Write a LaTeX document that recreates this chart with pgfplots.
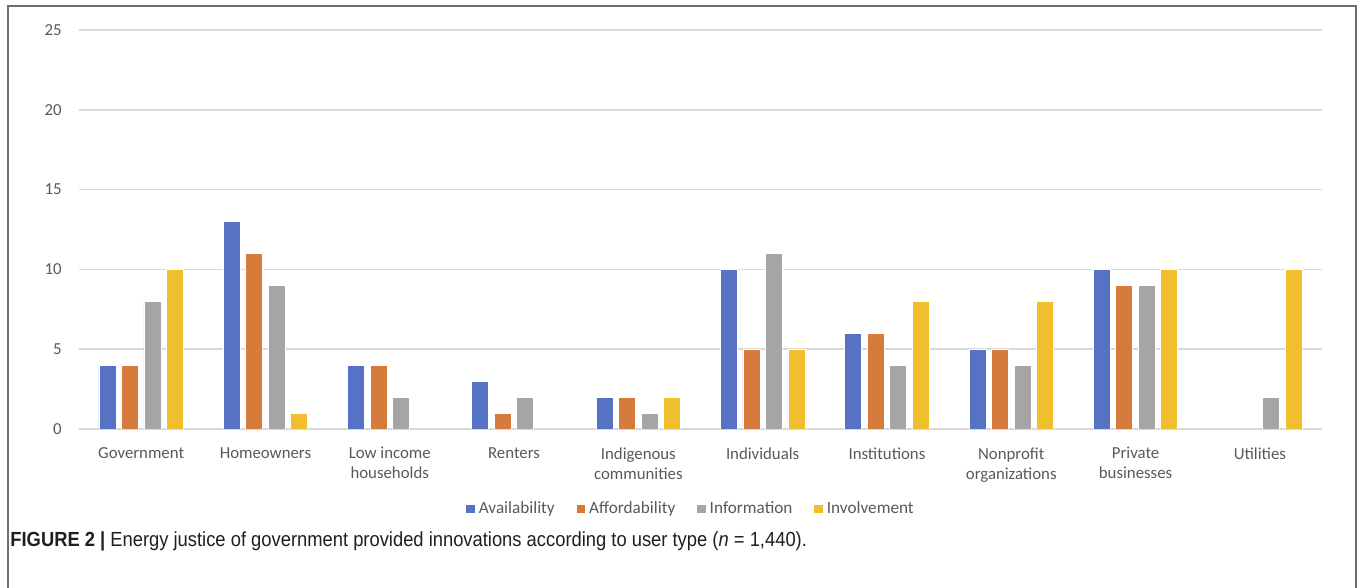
\documentclass[border=0pt]{standalone}
\usepackage{pgfplots}
\pgfplotsset{compat=1.18}
\usepackage{fontspec}
\setmainfont{Carlito}
\newfontfamily\capfont[FakeStretch=0.9]{Liberation Sans}

\definecolor{cavail}{HTML}{5672C4}
\definecolor{cafford}{HTML}{D67B3B}
\definecolor{cinfo}{HTML}{A5A5A5}
\definecolor{cinvol}{HTML}{F0BE2E}
\definecolor{labelgray}{HTML}{595959}
\definecolor{gridgray}{HTML}{D9D9D9}
\definecolor{boxgray}{HTML}{6E6E6E}

\pgfplotsset{
  legsq/.style={legend image code/.code={\fill[##1] (0pt,-2.4pt) rectangle (4.8pt,2.4pt);}},
}

\begin{document}
\begin{tikzpicture}
\useasboundingbox (0,0) rectangle (680pt,294pt);
\draw[boxgray, line width=1pt] (4pt,0) -- (4pt,291pt) -- (678pt,291pt) -- (678pt,0);

\begin{axis}[
  at={(39.5pt,79.5pt)}, anchor=south west,
  scale only axis, width=621.5pt, height=199.5pt,
  ybar=2.75pt, bar width=8.5pt,
  xmin=-0.5, xmax=9.5, ymin=0, ymax=25,
  ytick={0,5,10,15,20,25},
  xtick={0,...,9},
  xticklabels={Government, Homeowners, {Low income\\households}, Renters,
    {Indigenous\\communities}, Individuals, Institutions,
    {Nonprofit\\organizations}, {Private\\businesses}, Utilities},
  axis x line=bottom, axis y line=left,
  x axis line style={-, draw=gridgray, line width=0.8pt},
  y axis line style={draw=none},
  major tick length=0pt,
  ymajorgrids, grid style={gridgray, line width=0.8pt},
  /pgf/number format/assume math mode=true,
  tick label style={font=\fontsize{8.4}{10}\selectfont, text=labelgray},
  x tick label style={align=center, anchor=north, inner sep=0pt, yshift=-9pt},
  y tick label style={anchor=east, inner sep=0pt, xshift=-8.5pt},
  legend columns=4,
  legend style={at={(0.4924,-0.2005)}, anchor=center, draw=none,
    font=\fontsize{8.6}{10}\selectfont, text=labelgray,
    /tikz/every even column/.append style={column sep=9pt},
    nodes={inner sep=1.5pt}},
  legend cell align=left,
]
\addplot[fill=cavail, draw=white, line width=0.4pt, legsq] coordinates {
  (0,4) (1,13) (2,4) (3,3) (4,2) (5,10) (6,6) (7,5) (8,10)};
\addplot[fill=cafford, draw=white, line width=0.4pt, legsq] coordinates {
  (0,4) (1,11) (2,4) (3,1) (4,2) (5,5) (6,6) (7,5) (8,9)};
\addplot[fill=cinfo, draw=white, line width=0.4pt, legsq] coordinates {
  (0,8) (1,9) (2,2) (3,2) (4,1) (5,11) (6,4) (7,4) (8,9) (9,2)};
\addplot[fill=cinvol, draw=white, line width=0.4pt, legsq] coordinates {
  (0,10) (1,1) (4,2) (5,5) (6,8) (7,8) (8,10) (9,10)};
\legend{Availability, Affordability, Information, Involvement}
\end{axis}

\node[anchor=west, inner sep=0pt, text={black!88}] at (5pt,23.5pt)
  {\capfont\fontsize{10.2}{12}\selectfont\textbf{FIGURE 2 |} Energy justice of government provided innovations according to user type (\textit{n} = 1,440).};
\end{tikzpicture}
\end{document}
